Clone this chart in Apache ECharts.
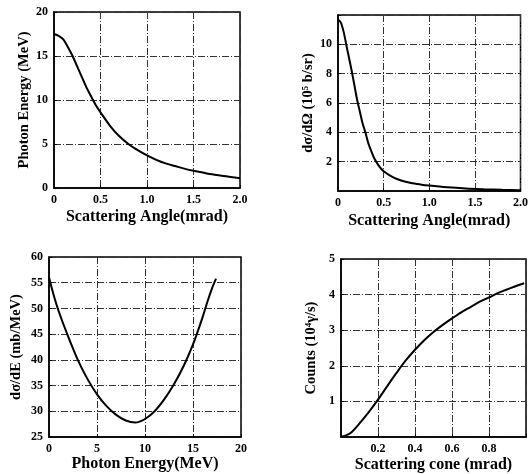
<!DOCTYPE html>
<html><head><meta charset="utf-8">
<script src="https://cdn.jsdelivr.net/npm/echarts@6/dist/echarts.min.js"></script>
<style>html,body{margin:0;padding:0;background:#fff}#c{width:531px;height:474px}</style>
</head><body><div id="c"></div>
<script>
// Panel 1: photon energy vs scattering angle
const angle1 = [0,0.05,0.1,0.15,0.2,0.25,0.3,0.35,0.4,0.45,0.5,0.6,0.7,0.8,0.9,1.0,1.1,1.2,1.3,1.4,1.5,1.6,1.7,1.8,1.9,2.0];
const energy1 = [17.5,17.3,16.9,16.0,15.0,13.8,12.6,11.4,10.4,9.4,8.6,7.1,5.9,5.0,4.3,3.7,3.2,2.8,2.5,2.2,1.95,1.75,1.55,1.4,1.25,1.1];
// Panel 2: dσ/dΩ vs scattering angle
const angle2 = [0,0.03,0.06,0.09,0.12,0.15,0.18,0.21,0.24,0.27,0.30,0.33,0.36,0.40,0.45,0.5,0.6,0.7,0.8,0.9,1.0,1.2,1.4,1.6,1.8,2.0];
const dsdo2 = [11.7,11.5,10.9,10.0,9.1,8.2,7.2,6.2,5.4,4.6,4.0,3.3,2.8,2.2,1.7,1.35,0.95,0.7,0.55,0.45,0.37,0.25,0.17,0.12,0.08,0.05];
// Panel 3: dσ/dE vs photon energy
const energy3 = [0,0.5,1,2,3,4,5,6,7,8,9,10,11,12,13,14,15,16,16.5,17,17.4];
const dsde3 = [56,52.5,49.5,44.5,40,36.3,33.3,31,29.3,28.2,27.8,28.5,30,32.3,35.2,38.7,43,48.3,51.3,54,55.8];
// Panel 4: counts vs scattering cone
const cone4 = [0,0.03,0.06,0.1,0.15,0.2,0.25,0.3,0.35,0.4,0.45,0.5,0.55,0.6,0.65,0.7,0.75,0.8,0.85,0.9,0.95,0.99];
const counts4 = [0,0.05,0.15,0.38,0.7,1.05,1.43,1.8,2.15,2.45,2.72,2.95,3.15,3.33,3.5,3.65,3.8,3.92,4.05,4.15,4.25,4.32];

const zip = (a,b) => a.map((v,i)=>[v,b[i]]);
const FONT = 'Liberation Serif';
const gridLine = {show:true, lineStyle:{color:'#333', width:1, type:[7,2,1,2]}};
const lab = (fmt) => ({fontFamily:FONT, fontWeight:'bold', fontSize:12, color:'#000', formatter:fmt, margin:6});
const xName = {fontFamily:FONT, fontWeight:'bold', fontSize:16, color:'#000'};
const yName = {fontFamily:FONT, fontWeight:'bold', fontSize:14.5, color:'#000'};
const tick = {show:true, inside:true, length:3, lineStyle:{color:'#000'}};
const line = {show:true, lineStyle:{color:'#000', width:1.5}};

function xa(i,min,max,intv,name,fmt,gap){
  return {gridIndex:i, type:'value', min:min, max:max, interval:intv, name:name, nameLocation:'middle', nameGap:gap,
    nameTextStyle:xName, axisLabel:lab(fmt), splitLine:gridLine, axisTick:tick, axisLine:line};
}
function ya(i,min,max,intv,name,fmt,gap){
  return {gridIndex:i, type:'value', min:min, max:max, interval:intv, name:name, nameLocation:'middle', nameGap:gap,
    nameTextStyle:yName, axisLabel:lab(fmt), splitLine:gridLine, axisTick:tick, axisLine:line};
}
const g = (l,t,r,b) => ({left:l, top:t, width:r-l, height:b-t, show:true, borderColor:'#000', borderWidth:1.5});

const option = {
  animation:false,
  grid:[g(54,12,240,188), g(338,15,522,191), g(49,257,241,437), g(341,259,526,438)],
  xAxis:[
    xa(0,0,2,0.5,'Scattering Angle(mrad)', v=> v===0?'0':v.toFixed(1), 21),
    xa(1,0,2,0.5,'Scattering Angle(mrad)', v=> v===0?'0':v.toFixed(1), 22),
    xa(2,0,20,5,'Photon Energy(MeV)', v=>String(v), 19),
    xa(3,0,1,0.2,'Scattering cone (mrad)', v=> (v===0||v===1)?'':v.toFixed(1), 20)
  ],
  yAxis:[
    ya(0,0,20,5,'Photon Energy (MeV)', v=>String(v), 20),
    ya(1,0,12,2,'dσ/dΩ (10⁵ b/sr)', v=> (v===0||v===12)?'':String(v), 22),
    ya(2,25,60,5,'dσ/dE (mb/MeV)', v=>String(v), 25),
    ya(3,0,5,1,'Counts (10⁴γ/s)', v=> v===0?'':String(v), 22)
  ],
  series:[
    {type:'line', xAxisIndex:0, yAxisIndex:0, data:zip(angle1,energy1), smooth:0.3, showSymbol:false, lineStyle:{color:'#000', width:2}},
    {type:'line', xAxisIndex:1, yAxisIndex:1, data:zip(angle2,dsdo2), smooth:0.3, showSymbol:false, lineStyle:{color:'#000', width:2}},
    {type:'line', xAxisIndex:2, yAxisIndex:2, data:zip(energy3,dsde3), smooth:0.3, showSymbol:false, lineStyle:{color:'#000', width:2}},
    {type:'line', xAxisIndex:3, yAxisIndex:3, data:zip(cone4,counts4), smooth:0.3, showSymbol:false, lineStyle:{color:'#000', width:2}}
  ]
};
echarts.init(document.getElementById('c'), null, {renderer:'canvas'}).setOption(option);
</script></body></html>
